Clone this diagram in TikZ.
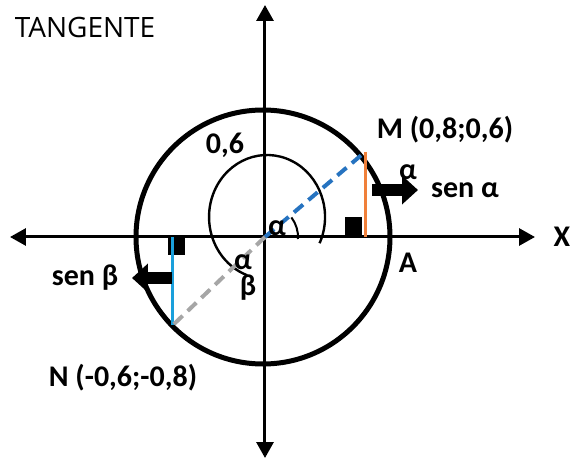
\documentclass[tikz,border=0pt]{standalone}
\usepackage{fontspec}
\setmainfont{Carlito}
\newfontfamily\titlefont{Open Sans}
\usetikzlibrary{arrows.meta,positioning}
\definecolor{sinorange}{HTML}{F0803A}
\definecolor{radblue}{HTML}{2673C0}
\definecolor{sinblue}{HTML}{1AA0DC}
\definecolor{radgray}{HTML}{A6A6A6}

\begin{document}
\begin{tikzpicture}[x=0.5pt,y=0.5pt,
  axis/.style={line width=1.5pt,{Triangle[length=8pt,width=8.5pt]}-{Triangle[length=8pt,width=8.5pt]}},
  lbl/.style={font=\bfseries\fontsize{15}{17}\selectfont,inner sep=0pt},
  bigarr/.style={line width=6pt,-{Triangle[length=8pt,width=14pt]}},
  raddash/.style={line width=2pt,dash pattern=on 6pt off 3.5pt}]
\useasboundingbox (-265,-229) rectangle (308,237);
\coordinate (O) at (0,0);
\coordinate (W) at (-255,0);
\coordinate (E) at (270,0);
\coordinate (S) at (0,-221);
\coordinate (T) at (0,232);
\coordinate (M) at (100,85);
\coordinate (N) at (-92,-88);
\coordinate (Mx) at (100,0);
\coordinate (Nx) at (-92,0);
\coordinate (sa1) at (107,47);
\coordinate (sa2) at (153,47);
\coordinate (sb1) at (-93,-41);
\coordinate (sb2) at (-133,-41);

% circle and axes
\draw[line width=2.5pt] (-2,0) circle[radius=127];
\draw[axis] (W) -- (E);
\draw[axis] (S) -- (T);

% angle arcs
\draw[line width=1.2pt] (54.6,-6.2) arc[start angle=-25,end angle=250,x radius=58,y radius=62];
\draw[line width=1pt] (33,-2) arc[start angle=-3,end angle=37,radius=33];

% right angle marks
\fill (80,0) rectangle (97,20);
\fill (-97,-18) rectangle (-80,0);

% sines and radii
\draw[sinorange,line width=1.5pt] (M) -- (Mx);
\draw[sinblue,line width=1.5pt] (N) -- (Nx);
\draw[radblue,raddash] (O) -- (M);
\draw[radgray,raddash] (O) -- (N);
\draw[bigarr] (sa1) -- (sa2);
\draw[bigarr] (sb1) -- (sb2);

% labels
\node[font=\titlefont\fontsize{14}{16}\selectfont,inner sep=0pt] (title) at (-180,209) {TANGENTE};
\node[lbl] (zs) at (-40,92) {0,6};
\node[lbl] (lM) at (180,107) {M (0,8;0,6)};
\node[lbl] (a1) at (143,65) {α};
\node[lbl] (sena) at (200,47) {sen α};
\node[lbl] (X) at (297,0) {X};
\node[lbl] (A) at (143,-26) {A};
\node[lbl] (a0) at (12,9) {α};
\node[lbl] (a2) at (-22,-25) {α};
\node[lbl] (b) at (-17,-51) {β};
\node[lbl] (senb) at (-180,-41) {sen β};
\node[lbl] (lN) at (-142,-141) {N (-0,6;-0,8)};
\end{tikzpicture}
\end{document}
